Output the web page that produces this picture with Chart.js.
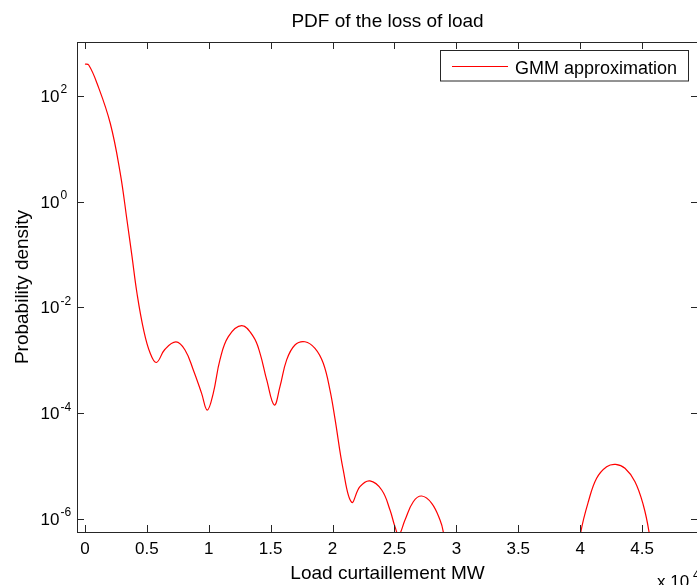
<!DOCTYPE html>
<html>
<head>
<meta charset="utf-8">
<script src="https://cdn.jsdelivr.net/npm/chart.js@4"></script>
<style>
  html, body { margin: 0; padding: 0; background: #fff; overflow: hidden; }
  #wrap { width: 697px; height: 585px; overflow: hidden; }
</style>
</head>
<body>
<div id="wrap"><canvas id="chart" width="712" height="585"></canvas></div>
<script>
// load curtailment in units of 10^4 MW
const loadMW = [
  0, 0.03, 0.097, 0.204, 0.285, 0.339, 0.380, 0.420, 0.474, 0.527, 0.577,
  0.646, 0.735, 0.808, 0.875, 0.942, 0.988, 1.036, 1.090, 1.158, 1.266,
  1.360, 1.414, 1.468, 1.529, 1.575, 1.629, 1.696, 1.777, 1.858, 1.925,
  1.979, 2.019, 2.086, 2.154, 2.221, 2.302, 2.397, 2.464, 2.504, 2.535,
  2.585, 2.652, 2.720, 2.801, 2.868, 2.894, 2.95, 3.45, 3.95, 4.006,
  4.066, 4.133, 4.214, 4.287, 4.362, 4.443, 4.510, 4.556, 4.62
];
const density = [
  403, 385, 174, 30.5, 3.45, 0.452, 0.0914, 0.0186, 3.75e-3, 1.36e-3, 9.12e-4,
  1.62e-3, 2.23e-3, 1.57e-3, 6.58e-4, 2.38e-4, 1.15e-4, 2.38e-4, 1.02e-3, 2.81e-3, 4.53e-3,
  2.81e-3, 1.36e-3, 4.26e-4, 1.43e-4, 3.18e-4, 1.02e-3, 1.95e-3, 2.25e-3, 1.69e-3, 8.81e-4,
  2.75e-4, 8.02e-5, 8.45e-6, 2.07e-6, 4.08e-6, 5.24e-6, 3.53e-6, 1.48e-6, 7.14e-7, 5.0e-7,
  9.57e-7, 2.12e-6, 2.72e-6, 1.98e-6, 9.57e-7, 5.75e-7, 6.3e-8, null, 6.3e-8, 5.75e-7,
  2.12e-6, 5.89e-6, 9.75e-6, 1.08e-5, 9.10e-6, 5.07e-6, 1.84e-6, 5.75e-7, 5.0e-8
];
const xTicks = [0, 0.5, 1, 1.5, 2, 2.5, 3, 3.5, 4, 4.5];
const yTickExponents = [-6, -4, -2, 0, 2];

const FONT = "'Liberation Sans', Arial, sans-serif";
Chart.defaults.font.family = FONT;
Chart.defaults.color = '#000';

const matlabFrame = {
  id: 'matlabFrame',
  afterDraw(chart) {
    const { ctx, chartArea: a, scales: { x, y } } = chart;
    ctx.save();
    ctx.strokeStyle = '#262626';
    ctx.lineWidth = 1;
    ctx.strokeRect(a.left + 0.5, a.top + 0.5, a.right - a.left, a.bottom - a.top);

    // inward tick marks on all four sides
    ctx.beginPath();
    xTicks.forEach(v => {
      const px = Math.round(x.getPixelForValue(v)) + 0.5;
      ctx.moveTo(px, a.bottom); ctx.lineTo(px, a.bottom - 7);
      ctx.moveTo(px, a.top); ctx.lineTo(px, a.top + 7);
    });
    yTickExponents.forEach(k => {
      const py = Math.round(y.getPixelForValue(10 ** k)) + 0.5;
      ctx.moveTo(a.left, py); ctx.lineTo(a.left + 7, py);
      ctx.moveTo(a.right, py); ctx.lineTo(a.right - 7, py);
    });
    ctx.stroke();

    // y tick labels 10^k
    ctx.fillStyle = '#000';
    yTickExponents.forEach(k => {
      const py = y.getPixelForValue(10 ** k);
      ctx.font = '17px ' + FONT;
      ctx.textAlign = 'right';
      ctx.textBaseline = 'alphabetic';
      ctx.fillText('10', 59.5, py + 6);
      ctx.font = '12px ' + FONT;
      ctx.textAlign = 'left';
      ctx.fillText(String(k), 60.5, py - 2.5);
    });

    const cx = (a.left + a.right) / 2;
    ctx.font = '19px ' + FONT;
    ctx.textAlign = 'center';
    ctx.fillText('PDF of the loss of load', cx, 27);
    ctx.fillText('Load curtaillement MW', cx, 579);

    ctx.save();
    ctx.translate(27.5, (a.top + a.bottom) / 2);
    ctx.rotate(-Math.PI / 2);
    ctx.fillText('Probability density', 0, 0);
    ctx.restore();

    // x 10^4 multiplier
    ctx.textAlign = 'left';
    ctx.font = '17px ' + FONT;
    ctx.fillText('x 10', 657, 587);
    ctx.font = '12px ' + FONT;
    ctx.fillText('4', 693, 579);

    // legend
    ctx.fillStyle = '#fff';
    ctx.fillRect(441, 51, 248, 30);
    ctx.strokeStyle = '#262626';
    ctx.strokeRect(440.5, 50.5, 248, 30.5);
    ctx.strokeStyle = '#ff0000';
    ctx.beginPath();
    ctx.moveTo(452, 66.5); ctx.lineTo(508, 66.5);
    ctx.stroke();
    ctx.fillStyle = '#000';
    ctx.font = '18px ' + FONT;
    ctx.fillText('GMM approximation', 515, 74);
    ctx.restore();
  }
};

new Chart(document.getElementById('chart'), {
  type: 'line',
  data: {
    datasets: [{
      label: 'GMM approximation',
      data: loadMW.map((v, i) => ({ x: v, y: density[i] })),
      borderColor: '#ff0000',
      borderWidth: 1.2,
      pointRadius: 0,
      fill: false,
      spanGaps: false,
      tension: 0.4
    }]
  },
  options: {
    responsive: false,
    animation: false,
    devicePixelRatio: 1,
    layout: { padding: { top: 42, right: 14, left: 0, bottom: 0 } },
    plugins: { legend: { display: false }, title: { display: false }, tooltip: { enabled: false } },
    scales: {
      x: {
        type: 'linear',
        min: -0.0646,
        max: 4.952,
        grid: { display: false, drawTicks: false },
        border: { display: false },
        ticks: { font: { size: 17 }, padding: 7, maxRotation: 0, callback: v => String(v) },
        afterBuildTicks: s => { s.ticks = xTicks.map(v => ({ value: v })); },
        afterFit: s => { s.height = 53; }
      },
      y: {
        type: 'logarithmic',
        min: Math.pow(10, -6.246),
        max: Math.pow(10, 3.021),
        grid: { display: false, drawTicks: false },
        border: { display: false },
        ticks: { display: false },
        afterBuildTicks: s => { s.ticks = yTickExponents.map(k => ({ value: 10 ** k })); },
        afterFit: s => { s.width = 77; }
      }
    }
  },
  plugins: [matlabFrame]
});
</script>
</body>
</html>
